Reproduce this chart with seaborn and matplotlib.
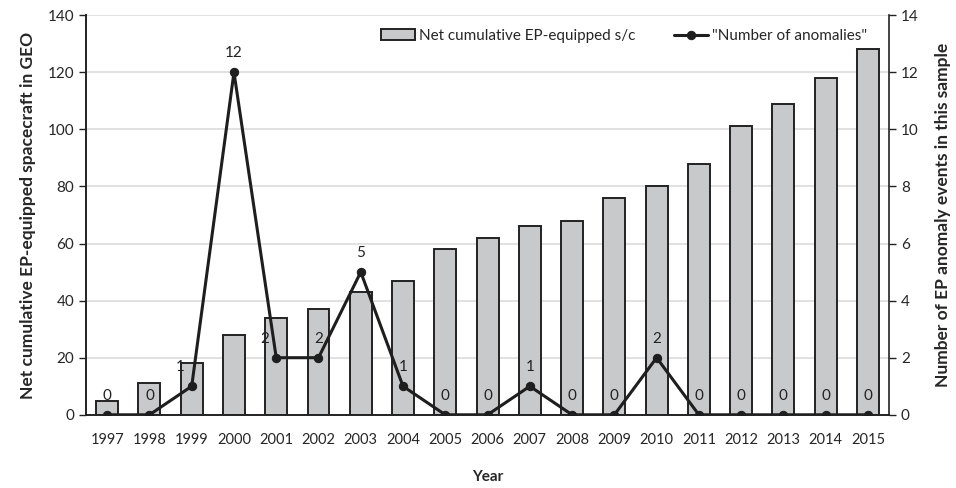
import numpy as np
import pandas as pd
import matplotlib
matplotlib.use("Agg")
import matplotlib.pyplot as plt
import seaborn as sns

years = [str(y) for y in range(1997, 2016)]
cum_ep_sc = [5, 11, 18, 28, 34, 37, 43, 47, 58, 62, 66, 68, 76, 80, 88, 101, 109, 118, 128]
anomalies = [0, 0, 1, 12, 2, 2, 5, 1, 0, 0, 1, 0, 0, 2, 0, 0, 0, 0, 0]

BAR_COLOR = "#c8c9cb"
LINE_COLOR = "#1e1e1e"

sns.set_theme(style="white")
plt.rcParams["font.family"] = ["Lato", "DejaVu Sans"]

df = pd.DataFrame({"year": years, "sc": cum_ep_sc, "anom": anomalies})
df["pos"] = np.arange(len(df))

fig = plt.figure(figsize=(9.56, 4.88), dpi=100)
ax = fig.add_axes([0.09, 0.15, 0.84, 0.819])

sns.barplot(data=df, x="year", y="sc", color=BAR_COLOR, edgecolor="#222222",
            linewidth=1.4, width=0.52, saturation=1, ax=ax, zorder=2,
            label="Net cumulative EP-equipped s/c")
ax.set_ylim(0, 140)
ax.set_yticks(range(0, 141, 20))
ax.set_xlim(-0.5, len(years) - 0.5)
ax.yaxis.grid(True, color="#dcdcdc", lw=1.2, zorder=0)
ax.set_axisbelow(True)

ax2 = ax.twinx()
sns.lineplot(data=df, x="pos", y="anom", color=LINE_COLOR, lw=2.2, marker="o",
             markersize=6, markeredgecolor=LINE_COLOR, ax=ax2, zorder=3,
             label='"Number of anomalies"')
ax2.set_ylim(0, 14)
ax2.set_yticks(range(0, 15, 2))
ax2.set_xlim(-0.5, len(years) - 0.5)

# point labels
for i, v in enumerate(anomalies):
    dx = -0.28 if years[i] in ("1999", "2001") else 0
    ax2.text(i + dx, v + 0.42, str(v), ha="center", va="bottom", fontsize=11, color="#222222")

# x ticks between categories
ax.set_xticks(np.arange(len(years)))
ax.set_xticklabels(years, fontsize=10.5)
ax.set_xticks(np.arange(-0.5, len(years), 1), minor=True)
ax.tick_params(axis="x", which="major", length=0, pad=13)
ax.tick_params(axis="x", which="minor", length=5, width=1, color="#222222", direction="out")
ax.tick_params(axis="y", length=5, width=1, color="#222222", direction="out", labelsize=11)
ax2.tick_params(axis="y", length=5, width=1, color="#222222", direction="out", labelsize=11)

for a in (ax, ax2):
    a.spines["top"].set_visible(False)
    for s in ("left", "right", "bottom"):
        a.spines[s].set_color("#222222")
        a.spines[s].set_linewidth(1.2)
ax.spines["right"].set_visible(False)

ax.set_xlabel("Year", fontsize=11, fontweight="bold", labelpad=17)
ax.set_ylabel("Net cumulative EP-equipped spacecraft in GEO", fontsize=12.5, fontweight="bold", labelpad=8)
ax2.set_ylabel("Number of EP anomaly events in this sample", fontsize=12.5, fontweight="bold", labelpad=12)

h1, l1 = ax.get_legend_handles_labels()
h2, l2 = ax2.get_legend_handles_labels()
if ax2.get_legend():
    ax2.get_legend().remove()
ax.legend(h1 + h2, l1 + l2, loc="upper right", bbox_to_anchor=(0.99, 1.0), ncol=2,
          frameon=False, fontsize=11, handlelength=2.2, handletextpad=0.3, columnspacing=2.5)

fig.savefig("out.png", dpi=100)
